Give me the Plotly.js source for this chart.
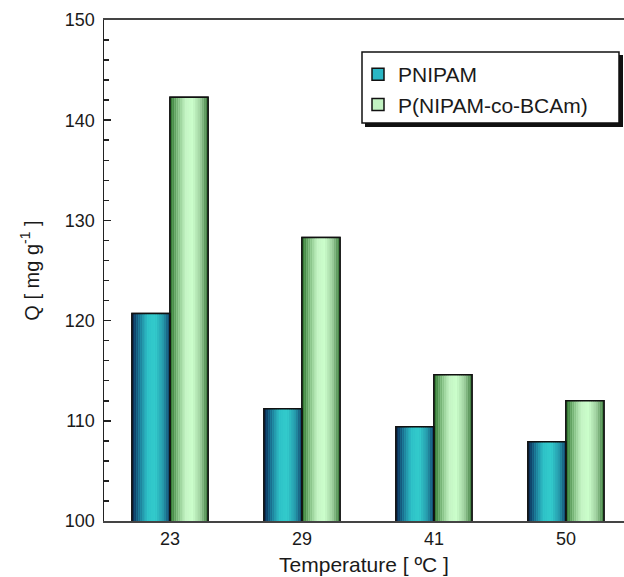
<!DOCTYPE html>
<html>
<head>
<meta charset="utf-8">
<script src="https://cdn.plot.ly/plotly-3.0.1.min.js"></script>
<style>html,body{margin:0;padding:0;background:#fff;}#chart{width:624px;height:577px;}</style>
</head>
<body>
<div id="chart"></div>
<script>
// ---- data ----
const temperatures = ['23', '29', '41', '50'];
const pnipam = [120.7, 111.2, 109.4, 107.9];
const copolymer = [142.3, 128.3, 114.6, 112.0];
const seriesNames = ['PNIPAM', 'P(NIPAM-co-BCAm)'];
const yTicks = [100, 110, 120, 130, 140, 150];

// ---- styling ----
const FONT = 'Liberation Sans, Arial, sans-serif';
const BAR_W = 0.288;   // width of one bar in category units
const N = 18;          // strips used to imitate the cylinder shading

function hexToRgb(h){h=h.replace('#','');return [0,2,4].map(i=>parseInt(h.substr(i,2),16));}
function grad(stops, t){
  for(let i=0;i<stops.length-1;i++){
    const [t0,c0]=stops[i],[t1,c1]=stops[i+1];
    if(t>=t0&&t<=t1){
      const f=(t-t0)/(t1-t0),a=hexToRgb(c0),b=hexToRgb(c1);
      const c=a.map((v,k)=>Math.round(v+(b[k]-v)*f));
      return 'rgb('+c.join(',')+')';
    }
  }
  return stops[stops.length-1][1];
}
const blueStops=[[0,'#0a2650'],[0.18,'#186a8c'],[0.4,'#2fc2c8'],[0.62,'#33cccc'],[0.82,'#2698aa'],[1,'#11406a']];
const greenStops=[[0,'#2c742c'],[0.16,'#6aaa6a'],[0.4,'#c4f4c4'],[0.6,'#ccffcc'],[0.8,'#9ccc9c'],[1,'#3a7a3a']];

const series=[
  {name:seriesNames[0], y:pnipam, off:-BAR_W, stops:blueStops, legendColor:'#2ab6c4'},
  {name:seriesNames[1], y:copolymer, off:0, stops:greenStops, legendColor:'#c2f2c2'}
];

const traces=[];
// base traces (carry legend entries)
series.forEach(s=>{
  traces.push({type:'bar',x:temperatures,y:s.y,name:s.name,width:BAR_W,offset:s.off,
    marker:{color:s.legendColor,line:{color:'#111',width:1.5}},hoverinfo:'skip'});
});
// shading strips
series.forEach(s=>{
  for(let i=0;i<N;i++){
    const t=(i+0.5)/N;
    traces.push({type:'bar',x:temperatures,y:s.y,showlegend:false,
      width:BAR_W/N*1.02,offset:s.off+i*BAR_W/N,
      marker:{color:grad(s.stops,t),line:{width:0}},hoverinfo:'skip'});
  }
});
// outlines
series.forEach(s=>{
  traces.push({type:'bar',x:temperatures,y:s.y,showlegend:false,width:BAR_W,offset:s.off,
    marker:{color:'rgba(0,0,0,0)',line:{color:'#111',width:1.5}},hoverinfo:'skip'});
});

const L=104, R=0, T=20, B=56, W=624, H=577;
const pw=W-L-R, ph=H-T-B;
const px=x=>(x-L)/pw, py=y=>(H-B-y)/ph;

const layout={
  width:W,height:H,
  margin:{l:L,r:R,t:T,b:B,pad:0},
  paper_bgcolor:'#fff',plot_bgcolor:'#fff',
  font:{family:FONT,color:'#1a1a1a',size:18},
  barmode:'overlay',
  showlegend:true,
  legend:{x:px(358),y:py(54),xanchor:'left',yanchor:'top',
    bgcolor:'rgba(0,0,0,0)',borderwidth:0,
    font:{family:FONT,size:21,color:'#1a1a1a'},
    itemwidth:30,tracegroupgap:0},
  xaxis:{type:'category',range:[-0.5,3.44],showgrid:false,zeroline:false,
    showline:true,linecolor:'#444',linewidth:2,mirror:true,
    ticks:'',tickfont:{size:18},
    title:{text:'Temperature [ ºC ]',font:{size:21},standoff:10}},
  yaxis:{range:[100,150],tickvals:yTicks,showgrid:false,zeroline:false,
    showline:true,linecolor:'#222',linewidth:1.5,mirror:false,
    ticks:'inside',ticklen:7,tickwidth:1.5,tickcolor:'#222',
    minor:{dtick:2,ticks:'inside',ticklen:5,tickwidth:1.5,tickcolor:'#222'},
    tickfont:{size:18},ticklabelstandoff:4,
    title:{text:'Q [ mg g<sup>-1</sup> ]',font:{size:20},standoff:20}},
  shapes:[
    // legend drop shadow and frame
    {type:'rect',xref:'paper',yref:'paper',x0:px(365),x1:px(623),y0:py(127),y1:py(55),
      fillcolor:'#111',line:{width:0},layer:'above'},
    {type:'rect',xref:'paper',yref:'paper',x0:px(362),x1:px(619),y0:py(123),y1:py(52),
      fillcolor:'#fff',line:{color:'#111',width:1.5},layer:'above'}
  ]
};

Plotly.newPlot('chart',traces,layout,{displayModeBar:false,staticPlot:true});
</script>
</body>
</html>
